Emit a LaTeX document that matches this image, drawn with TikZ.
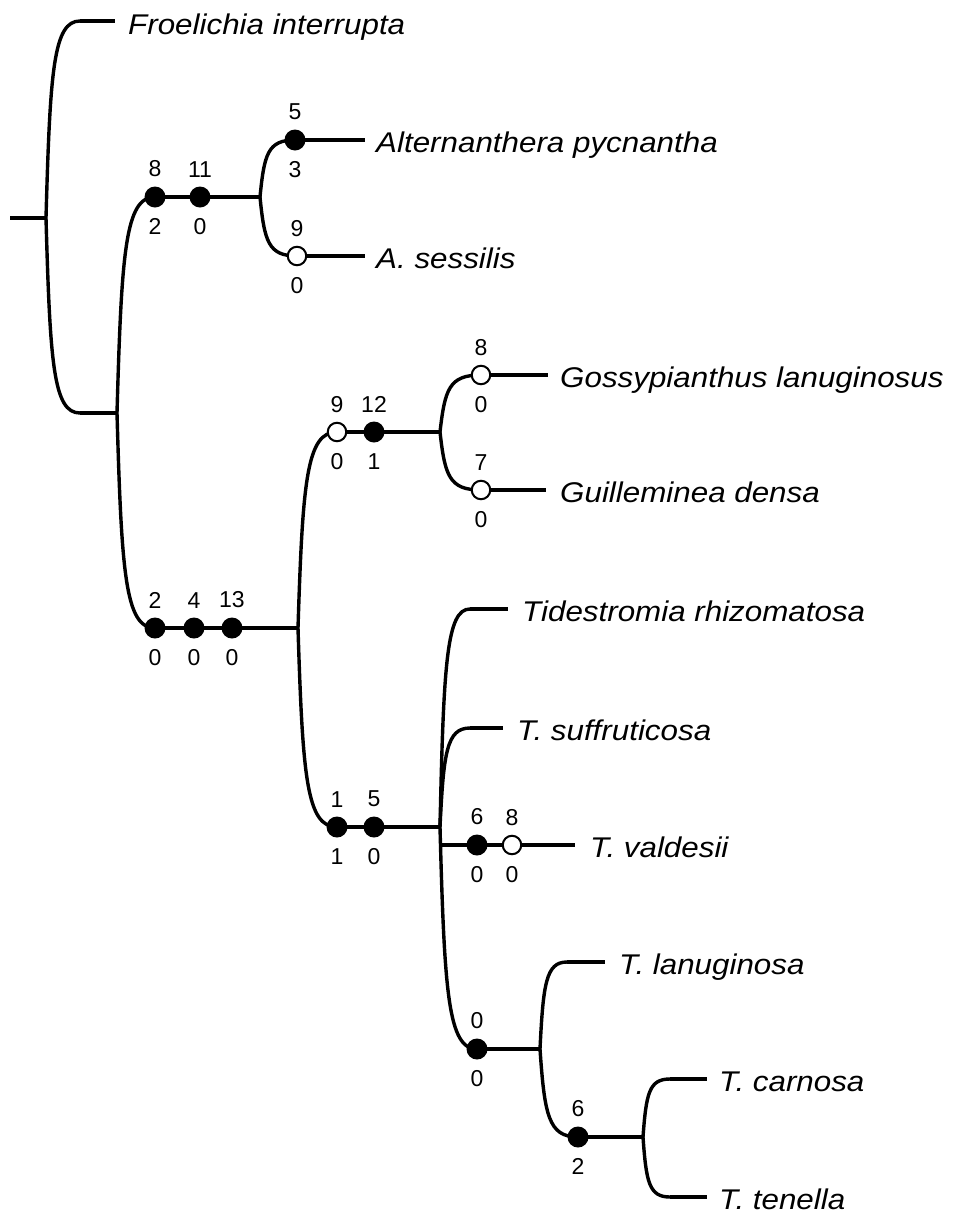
\documentclass[tikz,border=0pt]{standalone}
\usepackage{fontspec}
\setmainfont{Liberation Sans}
\newfontfamily\taxfont[FakeStretch=1.1]{Liberation Sans}
\usetikzlibrary{calc,backgrounds}
\tikzset{
  br/.style={line width=3.4pt, line cap=butt},
  dotbase/.style={circle, inner sep=0pt},
  fdot/.style={dotbase, fill=black, minimum size=21pt},
  odot/.style={dotbase, fill=white, draw=black, line width=2pt, minimum size=18.5pt},
  num/.style={font=\fontsize{23}{26}\selectfont, inner sep=0pt},
  chars/.style 2 args={label={[num,label distance=9pt]above:#1}, label={[num,label distance=11pt]below:#2}},
  taxon/.style={font=\taxfont\itshape\fontsize{28.5}{32}\selectfont, anchor=base west, inner sep=0pt},
}
\newcommand\brk[2]{\draw[br] (#1) .. controls ($0.25*(#1)+0.63*(#1|-#2)+0.12*(#2)$) and ($0.78*(#1|-#2)+0.22*(#2)$) .. (#2);}
\begin{document}
\begin{tikzpicture}[x=1pt,y=-1pt]
\useasboundingbox (0,0) rectangle (953,1216);
% branch points and tips
\coordinate (stub) at (10,218);
\coordinate (R0) at (46,218);
\coordinate (fro1) at (80,21);
\coordinate (fro2) at (115,21);
\coordinate (n1a) at (80,413);
\coordinate (N1) at (117,413);
\coordinate (N2) at (260,197);
\coordinate (alt) at (365,140);
\coordinate (ses) at (365,256);
\coordinate (N3) at (298,628);
\coordinate (N4) at (440,432);
\coordinate (gos) at (548,375);
\coordinate (gui) at (546,490);
\coordinate (N5) at (440,827);
\coordinate (rh1) at (470,609);
\coordinate (rh2) at (508,609);
\coordinate (su1) at (470,728);
\coordinate (su2) at (503,728);
\coordinate (V0) at (440,845);
\coordinate (val) at (575,845);
\coordinate (N6) at (540,1049);
\coordinate (la1) at (567,962);
\coordinate (la2) at (605,962);
\coordinate (N7) at (643,1137);
\coordinate (ca1) at (670,1079);
\coordinate (ca2) at (707,1079);
\coordinate (te1) at (670,1197);
\coordinate (te2) at (707,1197);
% character state dots
\node[fdot,chars={8}{2}] (d8) at (155,197) {};
\node[fdot,chars={11}{0}] (d11) at (200,197) {};
\node[fdot,chars={5}{3}] (a5) at (295,140) {};
\node[odot,chars={9}{0}] (a9) at (297,256) {};
\node[fdot,chars={2}{0}] (b2) at (155,628) {};
\node[fdot,chars={4}{0}] (b4) at (194,628) {};
\node[fdot,chars={13}{0}] (b13) at (232,628) {};
\node[odot,chars={9}{0}] (c9) at (337,432) {};
\node[fdot,chars={12}{1}] (c12) at (374,432) {};
\node[odot,chars={8}{0}] (g8) at (481,375) {};
\node[odot,chars={7}{0}] (g7) at (481,490) {};
\node[fdot,chars={1}{1}] (e1) at (337,827) {};
\node[fdot,chars={5}{0}] (e5) at (374,827) {};
\node[fdot,chars={6}{0}] (v6) at (477,845) {};
\node[odot,chars={8}{0}] (v8) at (512,845) {};
\node[fdot,chars={0}{0}] (t0) at (477,1049) {};
\node[fdot,chars={6}{2}] (u6) at (578,1137) {};
% taxa
\node[taxon] (Lfro) at (128,34) {Froelichia interrupta};
\node[taxon] (Lalt) at (376,152.5) {Alternanthera pycnantha};
\node[taxon] (Lses) at (376,268.5) {A. sessilis};
\node[taxon] (Lgos) at (560,387.5) {Gossypianthus lanuginosus};
\node[taxon] (Lgui) at (560,502.5) {Guilleminea densa};
\node[taxon] (Lrh) at (522,621.5) {Tidestromia rhizomatosa};
\node[taxon] (Lsu) at (517,740.5) {T. suffruticosa};
\node[taxon] (Lval) at (590,857.5) {T. valdesii};
\node[taxon] (Lla) at (619,974.5) {T. lanuginosa};
\node[taxon] (Lca) at (719,1091.5) {T. carnosa};
\node[taxon] (Lte) at (719,1209.5) {T. tenella};
% branches
\begin{scope}[on background layer]
\draw[br] (stub) -- (R0);
\brk{R0}{fro1}
\draw[br] (fro1) -- (fro2);
\brk{R0}{n1a}
\draw[br] (n1a) -- (N1);
\brk{N1}{d8.center}
\draw[br] (d8.center) -- (d11.center) -- (N2);
\brk{N2}{a5.center}
\draw[br] (a5.center) -- (alt);
\brk{N2}{a9.center}
\draw[br] (a9.center) -- (ses);
\brk{N1}{b2.center}
\draw[br] (b2.center) -- (b4.center) -- (b13.center) -- (N3);
\brk{N3}{c9.center}
\draw[br] (c9.center) -- (c12.center) -- (N4);
\brk{N4}{g8.center}
\draw[br] (g8.center) -- (gos);
\brk{N4}{g7.center}
\draw[br] (g7.center) -- (gui);
\brk{N3}{e1.center}
\draw[br] (e1.center) -- (e5.center) -- (N5);
\brk{N5}{rh1}
\draw[br] (rh1) -- (rh2);
\brk{N5}{su1}
\draw[br] (su1) -- (su2);
\draw[br] (V0) -- (v6.center) -- (v8.center) -- (val);
\brk{N5}{t0.center}
\draw[br] (t0.center) -- (N6);
\brk{N6}{la1}
\draw[br] (la1) -- (la2);
\brk{N6}{u6.center}
\draw[br] (u6.center) -- (N7);
\brk{N7}{ca1}
\draw[br] (ca1) -- (ca2);
\brk{N7}{te1}
\draw[br] (te1) -- (te2);
\end{scope}
\end{tikzpicture}
\end{document}
